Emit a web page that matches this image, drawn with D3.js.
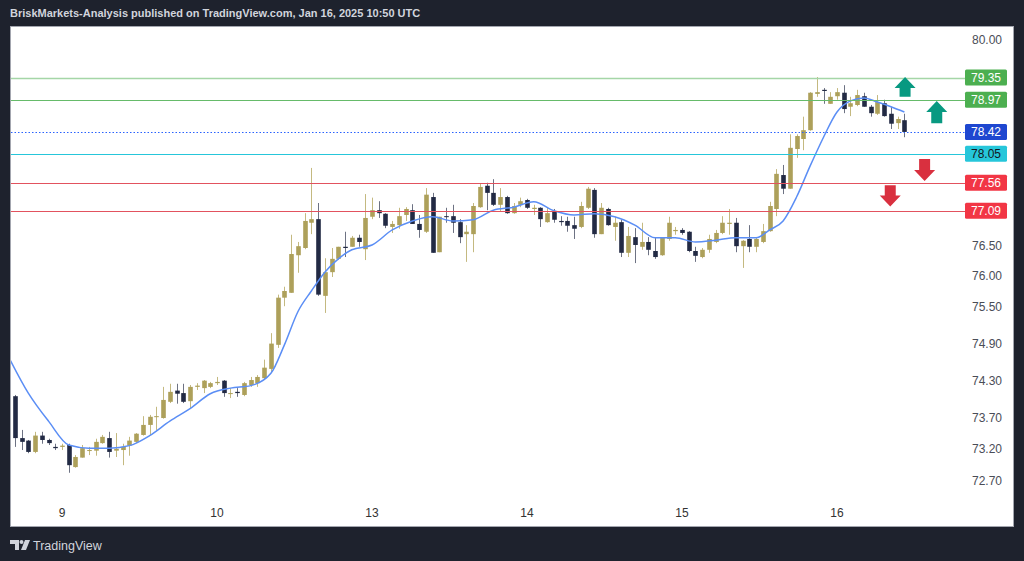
<!DOCTYPE html>
<html lang="en">
<head>
<meta charset="UTF-8">
<title>BriskMarkets - hourly chart</title>
<script src="https://cdn.jsdelivr.net/npm/d3@7"></script>
<style>
  html, body { margin: 0; padding: 0; background: #1e222d; }
  svg { display: block; font-family: "Liberation Sans", Arial, sans-serif; }
</style>
</head>
<body>
<svg id="chart" width="1024" height="561"></svg>
<script>
// hourly candles (index 0 = first candle at the left edge)
const opens = [74.42,74.05,73.38,73.34,73.16,73.42,73.35,73.24,73.24,73.27,72.92,73.07,73.18,73.18,73.30,73.38,73.18,73.19,73.26,73.32,
  73.43,73.59,73.72,73.70,73.96,74.14,74.10,73.97,74.20,74.18,74.20,74.26,74.30,74.09,74.12,74.07,74.23,74.26,74.34,74.49,
  74.88,75.65,75.73,76.35,76.47,76.89,76.95,75.68,76.07,76.29,76.49,76.49,76.64,76.45,76.99,77.10,77.04,76.82,76.85,77.02,
  77.10,76.87,76.74,77.32,76.40,77.00,77.00,76.90,76.70,76.70,77.15,77.51,77.39,77.19,77.32,77.05,77.19,77.27,77.12,77.14,
  76.90,77.07,76.92,76.92,76.85,76.82,77.14,77.44,76.70,77.12,76.82,76.90,76.39,76.65,76.49,76.57,76.42,76.35,76.62,76.75,
  76.77,76.74,76.42,76.32,76.44,76.57,76.72,76.87,76.89,76.50,76.62,76.49,76.57,76.75,77.12,77.69,77.46,78.13,78.30,78.45,
  79.07,79.14,78.90,79.03,79.09,78.85,78.88,79.03,78.85,78.73,78.91,78.73,78.57,78.62];
const highs = [74.44,74.07,73.51,73.35,73.48,73.48,73.37,73.29,73.29,73.29,73.11,73.27,73.24,73.37,73.43,73.48,73.46,73.29,73.40,73.46,
  73.73,73.75,73.88,74.20,74.25,74.25,74.25,74.23,74.26,74.31,74.28,74.36,74.31,74.18,74.18,74.28,74.36,74.39,74.64,75.07,
  75.70,75.83,76.69,76.57,77.05,77.81,77.22,76.30,76.47,76.49,76.74,76.67,76.69,77.37,77.31,77.25,77.05,76.92,77.14,77.15,
  77.20,77.02,77.47,77.39,76.99,77.14,77.19,76.95,76.85,77.22,77.54,77.56,77.62,77.47,77.34,77.22,77.31,77.29,77.19,77.15,
  77.15,77.12,77.00,76.99,76.99,77.24,77.49,77.47,77.22,77.14,76.99,76.94,76.82,76.80,76.89,76.65,76.65,76.65,76.99,76.82,
  76.80,76.75,76.49,76.47,76.69,76.77,77.00,77.12,76.97,76.60,76.85,76.65,76.87,77.24,77.79,77.86,78.38,78.38,78.68,79.10,
  79.36,79.17,79.10,79.17,79.22,79.02,79.14,79.09,78.88,79.05,78.97,78.85,78.68,78.73];
const lows = [74.02,73.24,73.19,73.14,73.14,73.29,73.27,73.19,73.19,72.83,72.91,73.07,73.11,73.10,73.29,73.07,73.08,72.95,73.10,73.30,
  73.42,73.43,73.51,73.69,73.94,73.93,73.94,73.85,74.15,74.10,74.18,74.23,74.04,74.02,74.04,74.05,74.20,74.20,74.31,74.44,
  74.83,75.51,75.73,76.06,76.45,76.70,75.68,75.40,75.99,76.27,76.32,76.49,76.49,76.27,76.95,76.97,76.80,76.72,76.79,76.92,
  76.87,76.64,76.72,76.39,76.40,76.89,76.72,76.55,76.24,76.40,77.14,77.10,77.17,77.07,77.04,77.04,77.15,77.12,77.02,76.82,
  76.89,76.89,76.84,76.74,76.62,76.80,77.12,76.64,76.70,76.84,76.59,76.32,76.32,76.22,76.44,76.35,76.29,76.34,76.59,76.69,
  76.69,76.40,76.24,76.30,76.39,76.55,76.70,76.69,76.40,76.14,76.40,76.40,76.55,76.74,77.00,77.37,77.46,77.98,78.11,78.44,
  79.02,78.90,78.90,78.97,78.74,78.69,78.86,78.85,78.68,78.71,78.68,78.47,78.47,78.33];
const closes = [74.04,73.38,73.32,73.16,73.42,73.35,73.30,73.22,73.26,72.95,73.08,73.22,73.19,73.32,73.40,73.16,73.21,73.24,73.34,73.45,
  73.59,73.72,73.73,73.99,74.12,74.09,73.96,74.20,74.22,74.30,74.26,74.28,74.10,74.10,74.10,74.26,74.31,74.36,74.51,74.90,
  75.65,75.76,76.37,76.50,76.92,76.95,75.70,76.07,76.29,76.49,76.47,76.64,76.57,76.97,77.10,77.05,76.84,76.87,77.00,77.12,
  76.87,76.77,77.36,76.39,76.99,76.99,76.89,76.65,76.74,77.17,77.49,77.39,77.19,77.32,77.05,77.17,77.25,77.14,77.14,76.95,
  77.05,76.94,76.90,76.84,76.79,77.17,77.46,76.70,77.14,76.85,76.89,76.39,76.67,76.52,76.57,76.44,76.32,76.64,76.89,76.77,
  76.72,76.42,76.34,76.44,76.62,76.72,76.89,76.89,76.50,76.59,76.49,76.62,76.75,77.17,77.71,77.46,78.15,78.35,78.45,79.09,
  79.10,79.12,79.02,79.10,78.81,78.91,79.05,78.85,78.74,78.93,78.69,78.56,78.64,78.42];

// moving average, read at every few candles
const maIdx = [0,3,6,9,12,15,18,21,24,27,30,33,36,39,41,43,45,47,49,51,54,57,60,63,66,69,72,75,78,81,84,87,90,93,96,99,102,105,108,111,113,115,117,119,121,123,125,127,129,131,133];
const maVal = [74.70,74.10,73.65,73.27,73.22,73.22,73.26,73.42,73.65,73.85,74.09,74.18,74.22,74.42,74.88,75.42,75.76,76.07,76.29,76.44,
  76.52,76.77,76.92,76.99,76.92,76.94,77.10,77.15,77.24,77.09,77.02,77.04,76.99,76.85,76.64,76.64,76.57,76.60,76.64,76.64,
  76.77,76.92,77.32,77.84,78.33,78.76,78.95,79.00,78.93,78.85,78.76];

// day labels on the time axis
const dayLabels = ["9", "10", "13", "14", "15", "16"];
const dayIdx = [8, 31, 54, 77, 100, 123];

// price axis ticks (the ones not hidden behind level labels)
const priceTicks = [80.00, 76.50, 76.00, 75.50, 74.90, 74.30, 73.70, 73.20, 72.70];

// horizontal levels
const levels = [79.35, 78.97, 78.42, 78.05, 77.56, 77.09];
const levelLine = ["#a5d6a7", "#66bb6a", "#2962ff", "#26c6da", "#e2525e", "#e2525e"];
const levelBox = ["#4caf50", "#4caf50", "#1e47d0", "#26c6da", "#f23645", "#f23645"];
const levelText = ["#fff", "#fff", "#fff", "#131722", "#fff", "#fff"];

// arrow annotations (candle index, start price, end price)
const arrowIdx = [133.1, 137.8, 136.0, 130.9];
const arrowFrom = [79.02, 78.57, 77.96, 77.52];
const arrowTo = [79.36, 78.95, 77.59, 77.16];

const svg = d3.select("#chart");
const W = 1024, H = 561;
const plotL = 10, plotR = 958, plotT = 26, plotB = 500;

const x = d3.scaleLinear().domain([0, 133]).range([8.1, 904.4]);
const y = d3.scaleLog().domain([72.7, 80]).range([481, 40]);

svg.append("rect").attr("width", W).attr("height", H).attr("fill", "#1e222d");
svg.append("rect").attr("x", 10.5).attr("y", 26.5).attr("width", 1003).attr("height", 500)
  .attr("fill", "#fff").attr("stroke", "#a3a6af");

svg.append("defs").append("clipPath").attr("id", "plot")
  .append("rect").attr("x", plotL + 1).attr("y", plotT).attr("width", plotR - plotL).attr("height", plotB - plotT);

const g = svg.append("g").attr("clip-path", "url(#plot)");

const candles = d3.range(opens.length).map(i => ({
  i, o: opens[i], h: highs[i], l: lows[i], c: closes[i], up: closes[i] >= opens[i]
}));

const bw = 4.6;
g.selectAll(".wick").data(candles).join("line")
  .attr("x1", d => Math.round(x(d.i)) + 0.5).attr("x2", d => Math.round(x(d.i)) + 0.5)
  .attr("y1", d => y(d.h)).attr("y2", d => y(d.l))
  .attr("stroke", d => d.up ? "#c4b980" : "#6d7283").attr("stroke-width", 1);

g.selectAll(".body").data(candles).join("rect")
  .attr("x", d => Math.round(x(d.i)) + 0.5 - bw / 2)
  .attr("y", d => y(Math.max(d.o, d.c)))
  .attr("width", bw)
  .attr("height", d => Math.max(1, Math.abs(y(d.o) - y(d.c))))
  .attr("fill", d => d.up ? "#ada05a" : "#222a44");

// moving average
const ma = maIdx.map((k, j) => [k, maVal[j]]);
g.append("path").datum(ma)
  .attr("d", d3.line().x(d => x(d[0])).y(d => y(d[1])).curve(d3.curveMonotoneX))
  .attr("fill", "none").attr("stroke", "#5b8ef5").attr("stroke-width", 1.5);

// level lines
levels.forEach((v, k) => {
  svg.append("line")
    .attr("x1", plotL + 1).attr("x2", 965)
    .attr("y1", Math.round(y(v)) + 0.5).attr("y2", Math.round(y(v)) + 0.5)
    .attr("stroke", levelLine[k])
    .attr("stroke-width", k === 0 ? 1.5 : 1)
    .attr("stroke-dasharray", k === 2 ? "1.5,2" : null);
});

// arrows
arrowIdx.forEach((k, j) => {
  const cx = x(k), y0 = y(arrowFrom[j]), y1 = y(arrowTo[j]);
  const dir = y1 < y0 ? -1 : 1;
  const head = 11, hw = 10.5, sw = 5.5;
  const neck = y1 - dir * head;
  const pts = [[cx, y1], [cx + hw, neck], [cx + sw, neck], [cx + sw, y0], [cx - sw, y0], [cx - sw, neck], [cx - hw, neck]];
  svg.append("path").attr("d", d3.line()(pts) + "Z")
    .attr("fill", dir < 0 ? "#089981" : "#d9303f");
});

// price axis
svg.selectAll(".ptick").data(priceTicks).join("text")
  .attr("x", 1002).attr("y", d => y(d) + 4)
  .attr("text-anchor", "end").attr("font-size", 12).attr("fill", "#4a4d57")
  .text(d => d.toFixed(2));

levels.forEach((v, k) => {
  const cy = y(v);
  svg.append("rect").attr("x", 965).attr("y", cy - 8).attr("width", 42).attr("height", 16)
    .attr("rx", 1.5).attr("fill", levelBox[k]);
  svg.append("text").attr("x", 986).attr("y", cy + 4.5)
    .attr("text-anchor", "middle").attr("font-size", 12).attr("fill", levelText[k])
    .text(v.toFixed(2));
});

// time axis
svg.selectAll(".dtick").data(dayIdx).join("text")
  .attr("x", d => x(d)).attr("y", 517)
  .attr("text-anchor", "middle").attr("font-size", 12).attr("fill", "#333")
  .text((d, k) => dayLabels[k]);

// header
svg.append("text").attr("x", 10).attr("y", 17)
  .attr("font-size", 11).attr("font-weight", "bold").attr("fill", "#d1d4dc")
  .text("BriskMarkets-Analysis published on TradingView.com, Jan 16, 2025 10:50 UTC");

// footer logo
const logo = svg.append("g").attr("fill", "#d1d4dc");
logo.append("path").attr("d", "M10,540 H19 V550 H15 V544 H10 Z");
logo.append("circle").attr("cx", 21.5).attr("cy", 542).attr("r", 2);
logo.append("path").attr("d", "M25,540 H30 L26,550 H21 Z");
svg.append("text").attr("x", 33).attr("y", 549.5)
  .attr("font-size", 12.5).attr("fill", "#d1d4dc").text("TradingView");
</script>
</body>
</html>
